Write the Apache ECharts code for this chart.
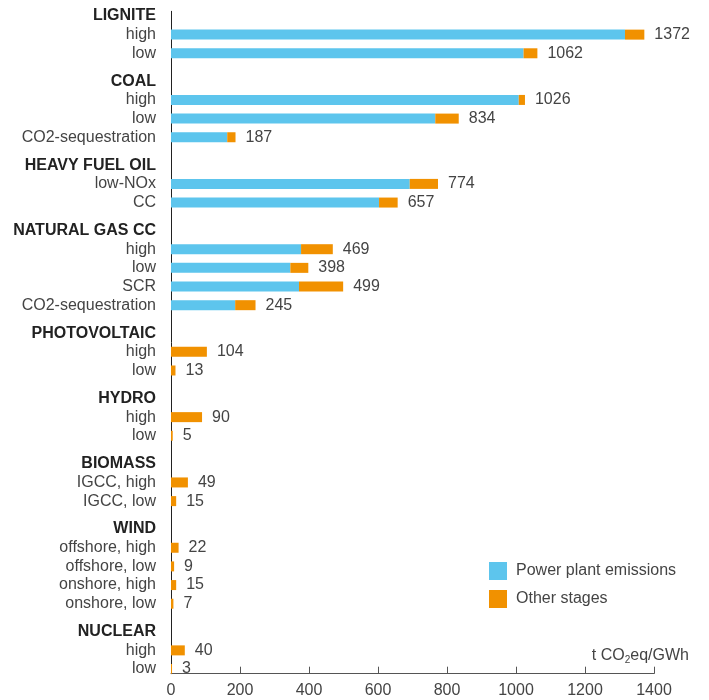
<!DOCTYPE html>
<html>
<head>
<meta charset="utf-8">
<script src="https://cdn.jsdelivr.net/npm/echarts@6/dist/echarts.min.js"></script>
<style>html,body{margin:0;padding:0;background:#fff}#c{width:709px;height:700px}</style>
</head>
<body>
<div id="c"></div>
<script>
const groups = ['LIGNITE', 'COAL', 'HEAVY FUEL OIL', 'NATURAL GAS CC', 'PHOTOVOLTAIC', 'HYDRO', 'BIOMASS', 'WIND', 'NUCLEAR'];
const groupSizes = [2, 3, 2, 4, 2, 2, 2, 4, 2];
const itemLabels = ['high', 'low', 'high', 'low', 'CO2-sequestration', 'low-NOx', 'CC', 'high', 'low', 'SCR', 'CO2-sequestration',
  'high', 'low', 'high', 'low', 'IGCC, high', 'IGCC, low', 'offshore, high', 'offshore, low', 'onshore, high', 'onshore, low', 'high', 'low'];
const plantEmissions = [1316, 1022, 1008, 766, 163, 692, 603, 377, 346, 371, 186, 0, 0, 0, 0, 0, 0, 0, 0, 0, 0, 0, 0];
const otherStages = [56, 40, 18, 68, 24, 82, 54, 92, 52, 128, 59, 104, 13, 90, 5, 49, 15, 22, 9, 15, 7, 40, 3];
const totals = [1372, 1062, 1026, 834, 187, 774, 657, 469, 398, 499, 245, 104, 13, 90, 5, 49, 15, 22, 9, 15, 7, 40, 3];
const xTicks = [0, 200, 400, 600, 800, 1000, 1200, 1400];
const seriesNames = ['Power plant emissions', 'Other stages'];

// Build slot layout: header, then items every 2 slots, 3 slots before next header
const cats = [], disp = [], plantData = [], otherData = [], totalBySlot = [];
function pushSlot(key, label, p, o, t) {
  cats.push(key); disp.push(label); plantData.push(p); otherData.push(o); totalBySlot.push(t);
}
let k = 0, slot = 0;
groups.forEach((g, gi) => {
  if (gi > 0) { pushSlot('s' + (slot++), '', '-', '-', null); pushSlot('s' + (slot++), '', '-', '-', null); }
  pushSlot('g' + gi, '{h|' + g + '}', '-', '-', null);
  for (let j = 0; j < groupSizes[gi]; j++) {
    pushSlot('s' + (slot++), '', '-', '-', null);
    pushSlot('i' + k, '{n|' + itemLabels[k] + '}', plantEmissions[k] || '-', otherStages[k], totals[k]);
    k++;
  }
});

const FONT = '"Liberation Sans", Arial, sans-serif';
const chart = echarts.init(document.getElementById('c'), null, {renderer: 'canvas'});
chart.setOption({
  animation: false,
  textStyle: {fontFamily: FONT},
  title: {
    text: 't CO{s|2}eq/GWh',
    right: 15, top: 641,
    textStyle: {fontSize: 16, fontWeight: 'normal', color: '#444', fontFamily: FONT,
      rich: {s: {fontSize: 10, padding: [9, 0, 0, 0], color: '#444', fontFamily: FONT}}}
  },
  legend: {
    orient: 'vertical', left: 489, top: 562, padding: 0,
    itemWidth: 18, itemHeight: 18, itemGap: 10, icon: 'rect',
    data: seriesNames,
    textStyle: {fontSize: 16, color: '#444', fontFamily: FONT, padding: [0, 0, 0, 4]}
  },
  grid: {left: 171, right: 55, top: 11.3, bottom: 26.3},
  xAxis: {
    type: 'value', min: xTicks[0], max: xTicks[xTicks.length - 1], interval: xTicks[1] - xTicks[0],
    axisLine: {show: true, lineStyle: {color: '#555', width: 1}},
    axisTick: {show: true, inside: true, length: 7, lineStyle: {color: '#555'}},
    splitLine: {show: false},
    axisLabel: {fontSize: 16, color: '#444', margin: 9, fontFamily: FONT, formatter: v => String(v)}
  },
  yAxis: {
    type: 'category', inverse: true, data: cats,
    axisLine: {show: true, lineStyle: {color: '#222', width: 1}},
    axisTick: {show: false},
    axisLabel: {
      interval: 0, margin: 15, fontFamily: FONT,
      formatter: (v, i) => disp[i],
      rich: {
        h: {fontSize: 16, fontWeight: 'bold', color: '#222', fontFamily: FONT},
        n: {fontSize: 16, color: '#444', fontFamily: FONT}
      }
    }
  },
  series: [
    {name: seriesNames[0], type: 'bar', stack: 'tot', barWidth: 10, data: plantData,
      itemStyle: {color: '#5DC5ED'}},
    {name: seriesNames[1], type: 'bar', stack: 'tot', barWidth: 10, data: otherData,
      itemStyle: {color: '#F19100'},
      label: {show: true, position: 'right', distance: 10, fontSize: 16, color: '#444', fontFamily: FONT,
        formatter: p => totalBySlot[p.dataIndex] == null ? '' : String(totalBySlot[p.dataIndex])}}
  ]
});
</script>
</body>
</html>
